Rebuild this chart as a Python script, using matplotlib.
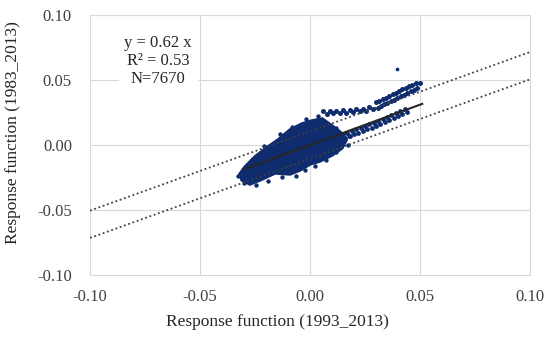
import matplotlib
matplotlib.use("Agg")
import matplotlib.pyplot as plt
from matplotlib.ticker import FormatStrFormatter

plt.rcParams['font.family'] = ['Liberation Serif', 'DejaVu Serif']
plt.rcParams['axes.unicode_minus'] = False

# ---- data ----
ticks = [-0.10, -0.05, 0.00, 0.05, 0.10]

# dense core of the point cloud (outline)
core_x = [-0.0309, -0.0273, -0.0218, -0.0159, -0.0091, -0.0045, 0.0000, 0.0045, 0.0100,
          0.0145, 0.0164, 0.0136, 0.0100, 0.0055, 0.0009, -0.0036, -0.0091, -0.0145,
          -0.0191, -0.0250, -0.0295, -0.0318]
core_y = [-0.0269, -0.0300, -0.0262, -0.0215, -0.0223, -0.0192, -0.0146, -0.0123, -0.0077,
          -0.0023, 0.0038, 0.0100, 0.0146, 0.0200, 0.0185, 0.0162, 0.0115, 0.0038,
          -0.0015, -0.0092, -0.0169, -0.0223]

# ragged edge points of the core
edge_x = [-0.0327, -0.0300, -0.0245, -0.0191, -0.0127, -0.0064, -0.0023, 0.0023, 0.0073,
          0.0118, 0.0173, 0.0177, 0.0118, 0.0036, -0.0018, -0.0082, -0.0136, -0.0209,
          -0.0264, -0.0305]
edge_y = [-0.0238, -0.0292, -0.0308, -0.0277, -0.0246, -0.0238, -0.0192, -0.0162, -0.0115,
          -0.0054, 0.0000, 0.0069, 0.0131, 0.0223, 0.0200, 0.0138, 0.0085, -0.0008,
          -0.0115, -0.0192]

# upper branch (scattered start, then a thick band)
up_x = [0.0060, 0.0075, 0.0090, 0.0105, 0.0120, 0.0135, 0.0150, 0.0165, 0.0180, 0.0195,
        0.0210, 0.0225, 0.0240, 0.0255, 0.0270, 0.0285,
        0.0300, 0.0315, 0.0330, 0.0345, 0.0360, 0.0375, 0.0390, 0.0405, 0.0420, 0.0435,
        0.0450, 0.0465, 0.0480,
        0.0307, 0.0322, 0.0337, 0.0352, 0.0367, 0.0382, 0.0397, 0.0412, 0.0427, 0.0442,
        0.0457, 0.0472, 0.0487, 0.0500]
up_y = [0.0258, 0.0240, 0.0262, 0.0245, 0.0265, 0.0248, 0.0268, 0.0250, 0.0272, 0.0255,
        0.0275, 0.0258, 0.0280, 0.0265, 0.0290, 0.0280,
        0.0327, 0.0340, 0.0352, 0.0364, 0.0377, 0.0389, 0.0402, 0.0414, 0.0427, 0.0440,
        0.0452, 0.0465, 0.0477,
        0.0288, 0.0301, 0.0313, 0.0325, 0.0338, 0.0350, 0.0363, 0.0375, 0.0388, 0.0401,
        0.0413, 0.0426, 0.0440, 0.0477]

# lower branch
lo_x = [0.0130, 0.0150, 0.0170, 0.0190, 0.0210, 0.0230, 0.0250, 0.0270, 0.0290, 0.0310,
        0.0330, 0.0350, 0.0370, 0.0390, 0.0410, 0.0430,
        0.0140, 0.0160, 0.0180, 0.0200, 0.0220, 0.0240, 0.0260, 0.0280, 0.0300, 0.0320,
        0.0340, 0.0360, 0.0380, 0.0400, 0.0420, 0.0440]
lo_y = [0.0068, 0.0081, 0.0094, 0.0107, 0.0120, 0.0133, 0.0146, 0.0159, 0.0172, 0.0185,
        0.0200, 0.0215, 0.0231, 0.0246, 0.0262, 0.0278,
        0.0043, 0.0056, 0.0069, 0.0082, 0.0095, 0.0108, 0.0121, 0.0134, 0.0147, 0.0160,
        0.0175, 0.0190, 0.0206, 0.0221, 0.0237, 0.0253]

# isolated outlier
out_x = [0.0395]
out_y = [0.0585]

# regression line y = 0.62 x and prediction band
slope = 0.62
fit_x = [-0.0295, 0.051]
band_slope = 0.61
band_off = 0.0105
band_x = [-0.10, 0.10]

eq_lines = ["y = 0.62 x", "R\u00b2 = 0.53", "N=7670"]

# ---- figure ----
W, H = 550, 338
fig = plt.figure(figsize=(W / 100, H / 100), dpi=100)
ax = fig.add_axes([90 / W, 1 - 275 / H, 440 / W, 260 / H])
ax.set_xlim(-0.10, 0.10)
ax.set_ylim(-0.10, 0.10)
ax.set_xticks(ticks)
ax.set_yticks(ticks)
ax.xaxis.set_major_formatter(FormatStrFormatter('%.2f'))
ax.yaxis.set_major_formatter(FormatStrFormatter('%.2f'))
ax.tick_params(length=0, labelsize=12, colors='#404040')
ax.tick_params(axis='y', pad=13)
ax.tick_params(axis='x', pad=10)
ax.grid(True, color='#d9d9d9', lw=0.8)
ax.set_axisbelow(True)
for s in ax.spines.values():
    s.set_color('#d9d9d9')
    s.set_linewidth(0.8)

navy = '#0f2c6e'
ax.fill(core_x, core_y, color=navy, lw=2.5, ec=navy, zorder=2)
ax.scatter(edge_x, edge_y, s=10, color=navy, lw=0, zorder=2)
ax.scatter(up_x, up_y, s=13, color=navy, lw=0, zorder=2)
ax.scatter(lo_x, lo_y, s=12, color=navy, lw=0, zorder=2)
ax.scatter(out_x, out_y, s=7, color=navy, lw=0, zorder=2)

ax.plot(fit_x, [slope * v for v in fit_x], color='#262626', lw=1.5, zorder=3)
ax.plot(band_x, [band_slope * v + band_off for v in band_x], color='#404040',
        lw=1.3, ls=(0, (1, 1.5)), zorder=3)
ax.plot(band_x, [band_slope * v - band_off for v in band_x], color='#404040',
        lw=1.3, ls=(0, (1, 1.5)), zorder=3)

ax.text(-0.069, 0.0646, "\n".join(eq_lines), ha='center', va='center', fontsize=12,
        color='#262626', linespacing=1.15, zorder=4,
        bbox=dict(facecolor='white', edgecolor='none', pad=4))

fig.text(277 / W, 1 - 322 / H, "Response function (1993_2013)", ha='center', va='center',
         fontsize=12.5, color='#262626')
fig.text(13 / W, 1 - 133 / H, "Response function (1983_2013)", ha='center', va='center',
         rotation=90, fontsize=12.5, color='#262626')

fig.savefig("out.png", dpi=100)
